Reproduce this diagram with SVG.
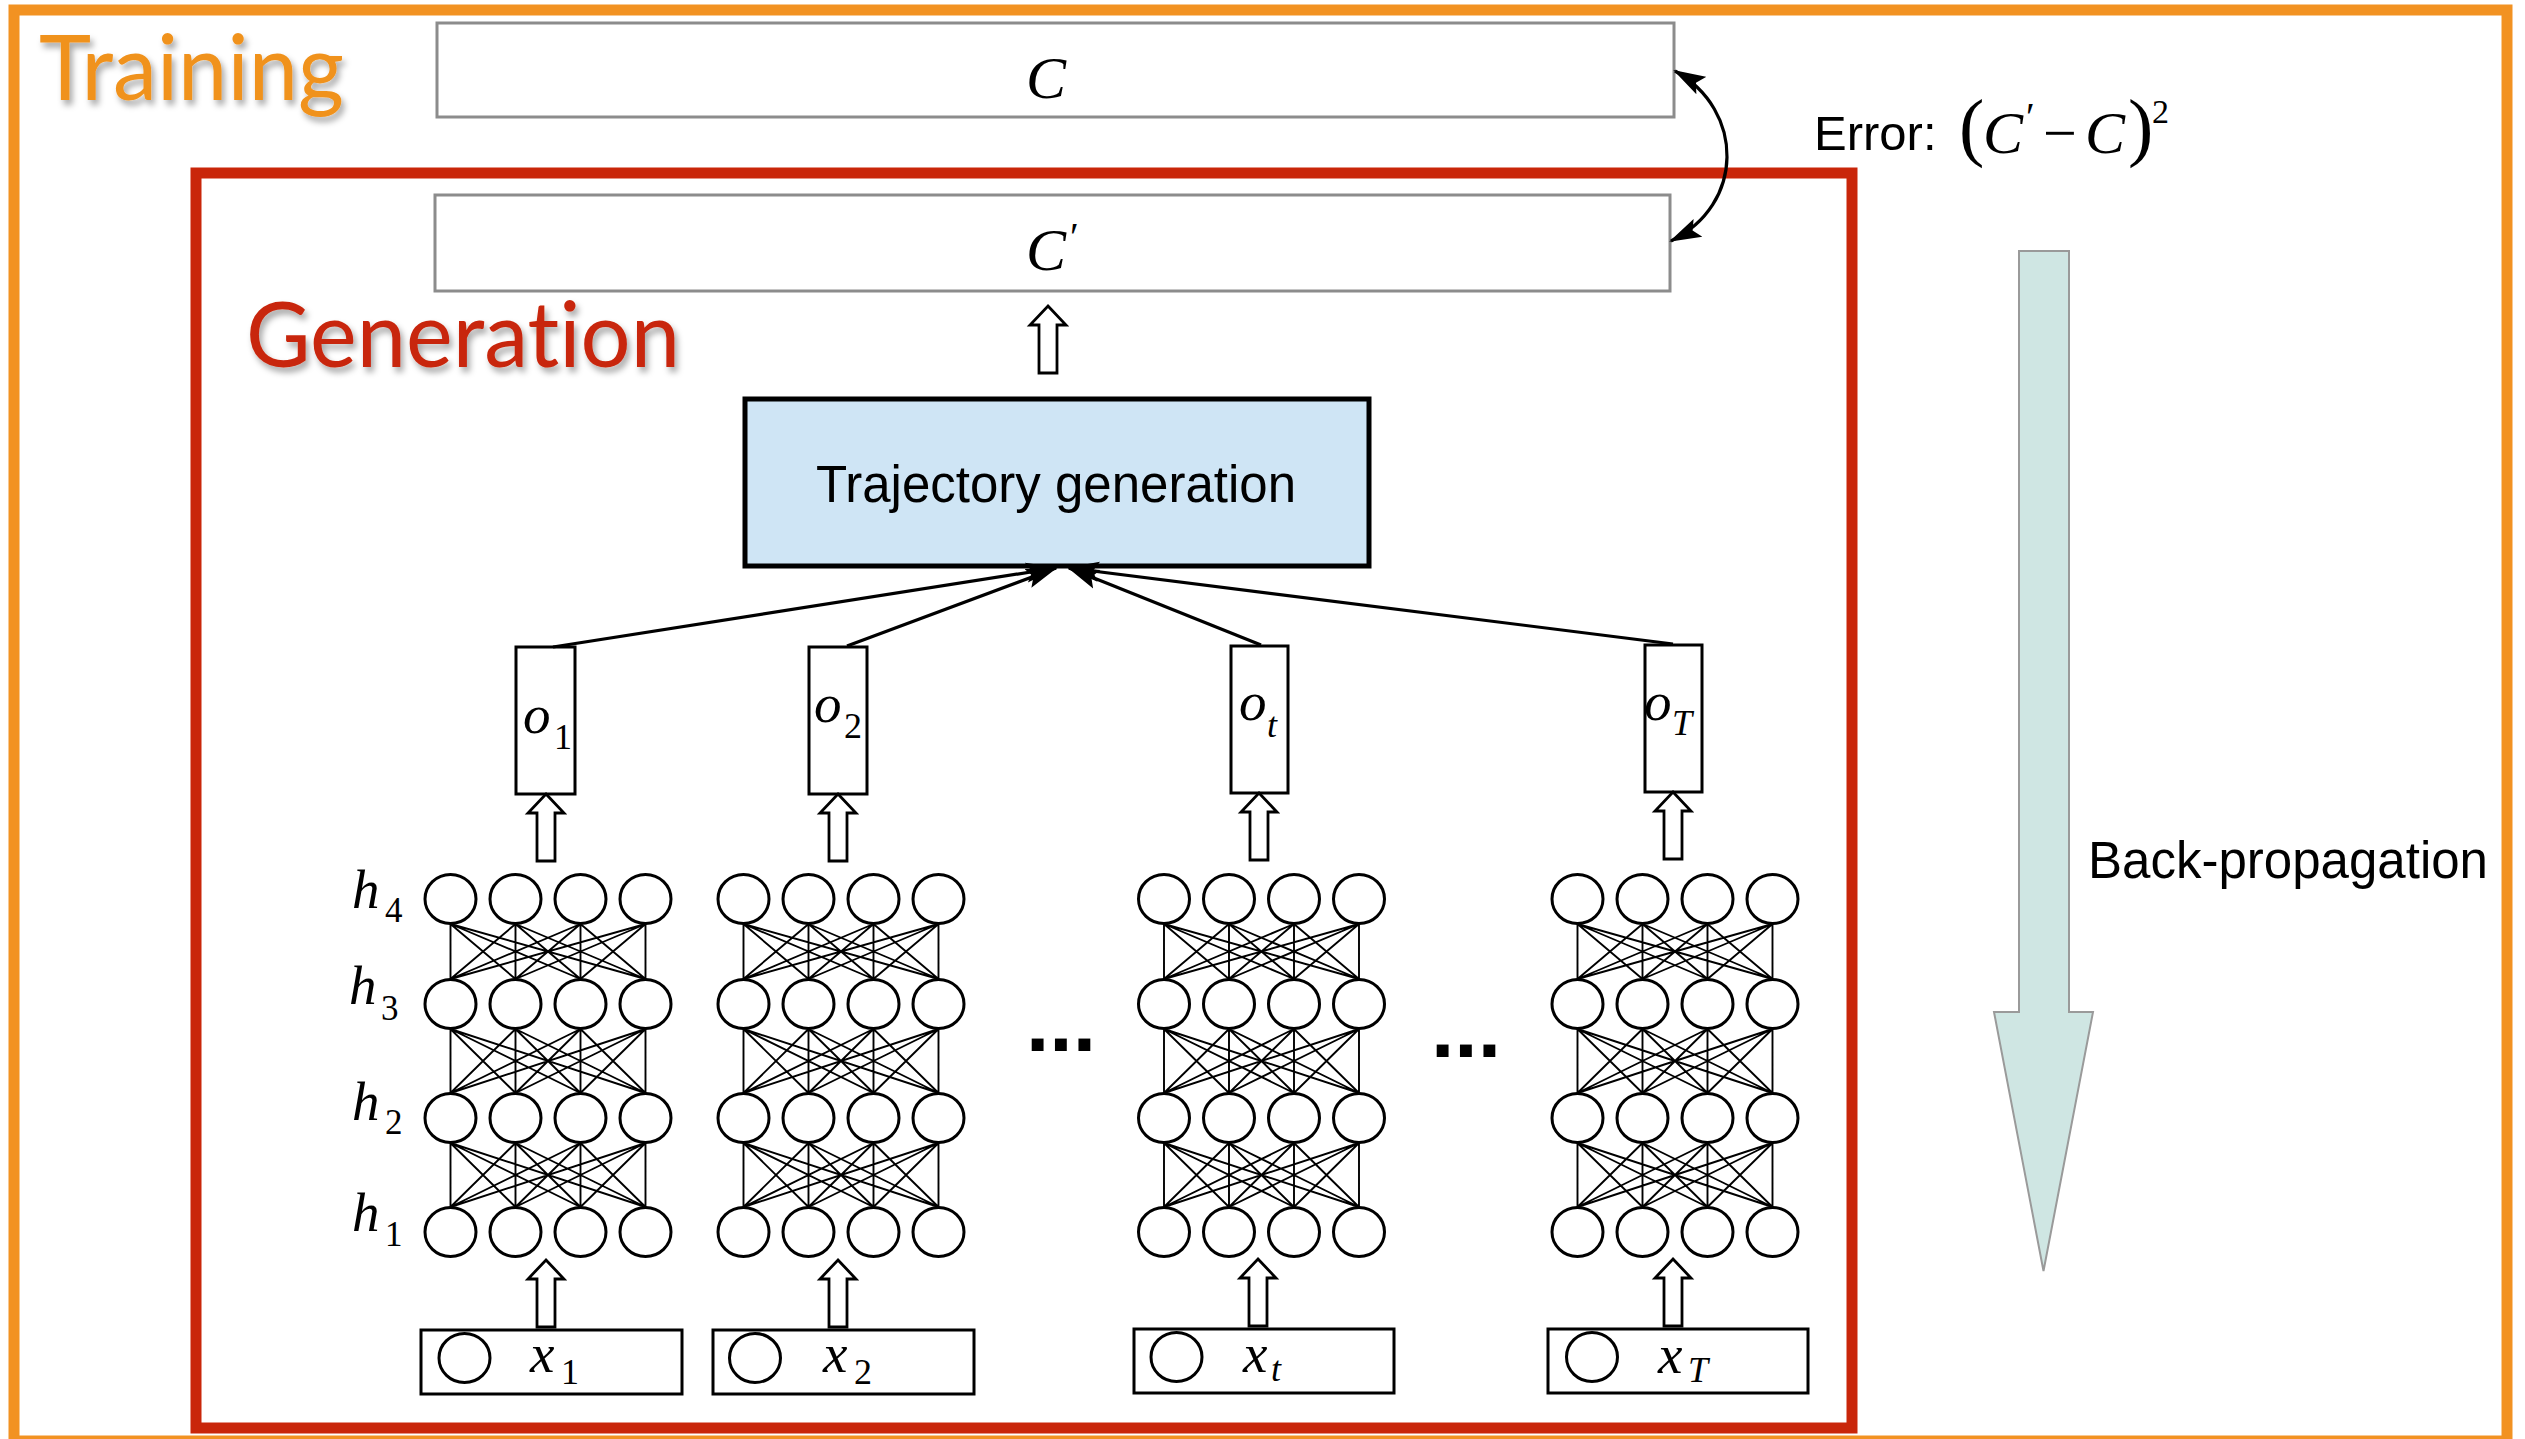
<svg xmlns="http://www.w3.org/2000/svg" xmlns:xlink="http://www.w3.org/1999/xlink" width="2525" height="1439" viewBox="0 0 2525 1439">
  <style>
    .box{fill:#fff;stroke:#000;stroke-width:3}
    .gbox{fill:#fff;stroke:#8c8c8c;stroke-width:3}
    .unit{fill:#fff;stroke:#000;stroke-width:3}
    .edge{fill:none;stroke:#000;stroke-width:1.9}
    .hollow{fill:#fff;stroke:#000;stroke-width:2.8;stroke-linejoin:miter}
    .conn{fill:none;stroke:#000;stroke-width:3.2}
    .math{font-family:"Liberation Serif","DejaVu Serif",serif;font-style:italic;fill:#000}
    .num{font-family:"Liberation Serif","DejaVu Serif",serif;font-style:normal;fill:#000}
    .sans{font-family:"Liberation Sans",Arial,sans-serif;fill:#000}
    .title{font-family:Lato,"Open Sans",sans-serif;font-variant-ligatures:none;filter:url(#shadow)}
  </style>
  <defs>
    <filter id="shadow" x="-10%" y="-20%" width="130%" height="160%">
      <feDropShadow dx="3" dy="5" stdDeviation="3" flood-color="#000" flood-opacity="0.35"/>
    </filter>
    <marker id="head" viewBox="0 0 32 22" refX="30" refY="11" markerWidth="32" markerHeight="22" markerUnits="userSpaceOnUse" orient="auto-start-reverse">
      <path d="M0,1 L32,11 L0,21 L6,11 Z" fill="#000"/>
    </marker>
    <!-- hollow block arrow, tip at origin, pointing up -->
    <path id="blockArrow" class="hollow" d="M0,0 L18,19 L9,19 L9,67 L-9,67 L-9,19 L-18,19 Z"/>
    <!-- four-layer fully connected stack, columns centred on x=0 -->
    <g id="stack">
      <path class="edge" d="M-97.5,924L-97.5,979M-97.5,924L-32.5,979M-97.5,924L32.5,979M-97.5,924L97.5,979M-32.5,924L-97.5,979M-32.5,924L-32.5,979M-32.5,924L32.5,979M-32.5,924L97.5,979M32.5,924L-97.5,979M32.5,924L-32.5,979M32.5,924L32.5,979M32.5,924L97.5,979M97.5,924L-97.5,979M97.5,924L-32.5,979M97.5,924L32.5,979M97.5,924L97.5,979"/>
      <path class="edge" d="M-97.5,1029L-97.5,1093M-97.5,1029L-32.5,1093M-97.5,1029L32.5,1093M-97.5,1029L97.5,1093M-32.5,1029L-97.5,1093M-32.5,1029L-32.5,1093M-32.5,1029L32.5,1093M-32.5,1029L97.5,1093M32.5,1029L-97.5,1093M32.5,1029L-32.5,1093M32.5,1029L32.5,1093M32.5,1029L97.5,1093M97.5,1029L-97.5,1093M97.5,1029L-32.5,1093M97.5,1029L32.5,1093M97.5,1029L97.5,1093"/>
      <path class="edge" d="M-97.5,1143L-97.5,1207M-97.5,1143L-32.5,1207M-97.5,1143L32.5,1207M-97.5,1143L97.5,1207M-32.5,1143L-97.5,1207M-32.5,1143L-32.5,1207M-32.5,1143L32.5,1207M-32.5,1143L97.5,1207M32.5,1143L-97.5,1207M32.5,1143L-32.5,1207M32.5,1143L32.5,1207M32.5,1143L97.5,1207M97.5,1143L-97.5,1207M97.5,1143L-32.5,1207M97.5,1143L32.5,1207M97.5,1143L97.5,1207"/>
      <ellipse class="unit" cx="-97.5" cy="899" rx="25.5" ry="24.5"/>
      <ellipse class="unit" cx="-32.5" cy="899" rx="25.5" ry="24.5"/>
      <ellipse class="unit" cx="32.5" cy="899" rx="25.5" ry="24.5"/>
      <ellipse class="unit" cx="97.5" cy="899" rx="25.5" ry="24.5"/>
      <ellipse class="unit" cx="-97.5" cy="1004" rx="25.5" ry="24.5"/>
      <ellipse class="unit" cx="-32.5" cy="1004" rx="25.5" ry="24.5"/>
      <ellipse class="unit" cx="32.5" cy="1004" rx="25.5" ry="24.5"/>
      <ellipse class="unit" cx="97.5" cy="1004" rx="25.5" ry="24.5"/>
      <ellipse class="unit" cx="-97.5" cy="1118" rx="25.5" ry="24.5"/>
      <ellipse class="unit" cx="-32.5" cy="1118" rx="25.5" ry="24.5"/>
      <ellipse class="unit" cx="32.5" cy="1118" rx="25.5" ry="24.5"/>
      <ellipse class="unit" cx="97.5" cy="1118" rx="25.5" ry="24.5"/>
      <ellipse class="unit" cx="-97.5" cy="1232" rx="25.5" ry="24.5"/>
      <ellipse class="unit" cx="-32.5" cy="1232" rx="25.5" ry="24.5"/>
      <ellipse class="unit" cx="32.5" cy="1232" rx="25.5" ry="24.5"/>
      <ellipse class="unit" cx="97.5" cy="1232" rx="25.5" ry="24.5"/>
    </g>
  </defs>

  <rect width="2525" height="1439" fill="#fff"/>

  <!-- outer training frame -->
  <g id="training-frame">
    <rect x="14" y="10" width="2493" height="1431" fill="none" stroke="#F29222" stroke-width="11"/>
    <text class="title" x="39" y="100" font-size="92" fill="#F0921E" textLength="305" lengthAdjust="spacingAndGlyphs">Training</text>
  </g>

  <!-- target C -->
  <g id="target-c">
    <rect class="gbox" x="437" y="23" width="1237" height="94"/>
    <text class="math" x="1026" y="98" font-size="60">C</text>
  </g>

  <!-- inner generation frame -->
  <g id="generation-frame">
    <rect x="196" y="173" width="1656" height="1255" fill="none" stroke="#C9260A" stroke-width="11"/>
    <text class="title" x="246" y="367" font-size="92" fill="#C8260B" textLength="434" lengthAdjust="spacingAndGlyphs">Generation</text>
  </g>

  <!-- generated C' -->
  <g id="generated-c">
    <rect class="gbox" x="435" y="195" width="1235" height="96"/>
    <text class="math" x="1026" y="270" font-size="60">C</text>
    <text class="num" x="1070" y="250" font-size="40">′</text>
  </g>

  <!-- error label -->
  <g id="error-label">
    <text class="sans" x="1814" y="150" font-size="49">Error:</text>
    <text class="num" x="1959" y="152" font-size="76">(</text>
    <text class="math" x="1983" y="153" font-size="60">C</text>
    <text class="num" x="2026" y="130" font-size="40">′</text>
    <text class="num" x="2043" y="153" font-size="60">−</text>
    <text class="math" x="2085" y="153" font-size="60">C</text>
    <text class="num" x="2128" y="152" font-size="76">)</text>
    <text class="num" x="2152" y="123" font-size="34">2</text>
  </g>

  <!-- back-propagation arrow -->
  <g id="backprop">
    <polygon points="2019,251 2069,251 2069,1012 2093,1012 2043.5,1271 1994,1012 2019,1012" fill="#CFE6E3" stroke="#9a9a9a" stroke-width="2"/>
    <text class="sans" x="2088" y="878" font-size="51" textLength="400" lengthAdjust="spacingAndGlyphs">Back-propagation</text>
  </g>

  <!-- trajectory generation -->
  <g id="trajectory">
    <rect x="745" y="399" width="624" height="167" fill="#CFE5F5" stroke="#000" stroke-width="5"/>
    <text class="sans" x="1056" y="502" font-size="51" text-anchor="middle">Trajectory generation</text>
  </g>

  <!-- layer labels -->
  <g id="layer-labels">
    <text class="math" x="352" y="908" font-size="55">h</text><text class="num" x="385" y="922" font-size="35">4</text>
    <text class="math" x="349" y="1004" font-size="55">h</text><text class="num" x="381" y="1020" font-size="35">3</text>
    <text class="math" x="352" y="1120" font-size="55">h</text><text class="num" x="385" y="1134" font-size="35">2</text>
    <text class="math" x="352" y="1231" font-size="55">h</text><text class="num" x="385" y="1246" font-size="35">1</text>
  </g>

  <!-- frame 1 -->
  <g id="net-1"><use xlink:href="#stack" href="#stack" transform="translate(548,0)"/></g>
  <g id="out-1">
    <rect class="box" x="516" y="647" width="59" height="147"/>
    <text class="math" x="523" y="733" font-size="55">o</text><text class="num" x="554" y="749" font-size="36">1</text>
  </g>
  <g id="in-1">
    <rect class="box" x="421" y="1330" width="261" height="64"/>
    <ellipse class="unit" cx="464.5" cy="1358" rx="25.5" ry="24.5"/>
    <text class="math" x="530" y="1372" font-size="55">x</text><text class="num" x="561" y="1384" font-size="36">1</text>
  </g>

  <!-- frame 2 -->
  <g id="net-2"><use xlink:href="#stack" href="#stack" transform="translate(841,0)"/></g>
  <g id="out-2">
    <rect class="box" x="809" y="647" width="58" height="147"/>
    <text class="math" x="814" y="722" font-size="55">o</text><text class="num" x="844" y="738" font-size="36">2</text>
  </g>
  <g id="in-2">
    <rect class="box" x="713" y="1330" width="261" height="64"/>
    <ellipse class="unit" cx="755" cy="1358" rx="25.5" ry="24.5"/>
    <text class="math" x="823" y="1372" font-size="55">x</text><text class="num" x="854" y="1384" font-size="36">2</text>
  </g>

  <!-- frame t -->
  <g id="net-t"><use xlink:href="#stack" href="#stack" transform="translate(1261.5,0)"/></g>
  <g id="out-t">
    <rect class="box" x="1231" y="646" width="57" height="147"/>
    <text class="math" x="1239" y="720" font-size="55">o</text><text class="math" x="1267" y="737" font-size="36">t</text>
  </g>
  <g id="in-t">
    <rect class="box" x="1134" y="1329" width="260" height="64"/>
    <ellipse class="unit" cx="1176.5" cy="1357" rx="25.5" ry="24.5"/>
    <text class="math" x="1243" y="1372" font-size="55">x</text><text class="math" x="1271" y="1381" font-size="36">t</text>
  </g>

  <!-- frame T -->
  <g id="net-T"><use xlink:href="#stack" href="#stack" transform="translate(1675,0)"/></g>
  <g id="out-T">
    <rect class="box" x="1645" y="645" width="57" height="147"/>
    <text class="math" x="1644" y="720" font-size="55">o</text><text class="math" x="1672" y="735" font-size="36">T</text>
  </g>
  <g id="in-T">
    <rect class="box" x="1548" y="1329" width="260" height="64"/>
    <ellipse class="unit" cx="1592" cy="1357" rx="25.5" ry="24.5"/>
    <text class="math" x="1658" y="1373" font-size="55">x</text><text class="math" x="1688" y="1382" font-size="36">T</text>
  </g>

  <!-- ellipses between frames -->
  <g id="gaps">
    <text class="sans" x="1026" y="1051" font-size="84" font-weight="bold">...</text>
    <text class="sans" x="1431" y="1057" font-size="84" font-weight="bold">...</text>
  </g>

  <!-- connectors -->
  <g id="connectors">
    <use xlink:href="#blockArrow" href="#blockArrow" transform="translate(1048,306)"/>
    <use xlink:href="#blockArrow" href="#blockArrow" transform="translate(546,794)"/>
    <use xlink:href="#blockArrow" href="#blockArrow" transform="translate(838,794)"/>
    <use xlink:href="#blockArrow" href="#blockArrow" transform="translate(1259,793)"/>
    <use xlink:href="#blockArrow" href="#blockArrow" transform="translate(1673,792)"/>
    <use xlink:href="#blockArrow" href="#blockArrow" transform="translate(546,1260)"/>
    <use xlink:href="#blockArrow" href="#blockArrow" transform="translate(838,1260)"/>
    <use xlink:href="#blockArrow" href="#blockArrow" transform="translate(1258,1259)"/>
    <use xlink:href="#blockArrow" href="#blockArrow" transform="translate(1673,1259)"/>
    <line class="conn" x1="553" y1="647" x2="1056" y2="568" marker-end="url(#head)"/>
    <line class="conn" x1="847" y1="646" x2="1056" y2="568" marker-end="url(#head)"/>
    <line class="conn" x1="1261" y1="645" x2="1069" y2="568" marker-end="url(#head)"/>
    <line class="conn" x1="1673" y1="644" x2="1069" y2="568" marker-end="url(#head)"/>
    <path class="conn" d="M1675,71 C1745,110 1745,205 1671,241" marker-start="url(#head)" marker-end="url(#head)"/>
  </g>
</svg>
